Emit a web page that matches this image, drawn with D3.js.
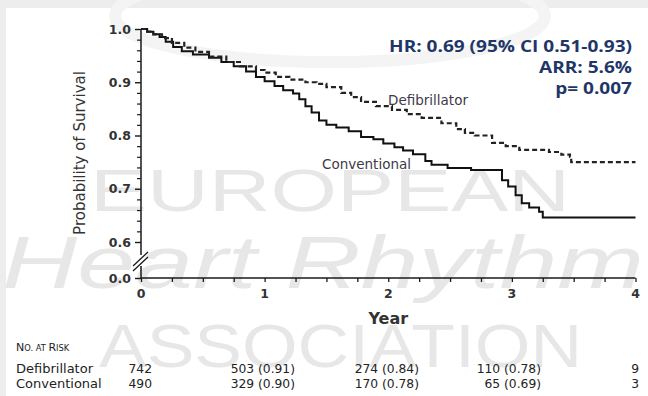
<!DOCTYPE html>
<html>
<head>
<meta charset="utf-8">
<script src="https://cdn.jsdelivr.net/npm/d3@7"></script>
<style>
  html, body { margin: 0; padding: 0; background: #fff; }
  svg { display: block; }
</style>
</head>
<body>
<svg id="chart" width="648" height="396"></svg>
<script>
// ---------- data ----------
const defibTime = [0, 0.05, 0.1, 0.17, 0.25, 0.35, 0.44, 0.55, 0.69, 0.8, 0.93, 1.0, 1.09, 1.2, 1.33, 1.42, 1.5, 1.62, 1.7, 1.78, 1.9, 2.03, 2.15, 2.27, 2.43, 2.55, 2.62, 2.7, 2.84, 2.95, 3.06, 3.3, 3.4, 3.47, 3.48, 4.0];
const defibSurv = [1.0, 0.995, 0.99, 0.983, 0.974, 0.965, 0.957, 0.948, 0.938, 0.93, 0.923, 0.918, 0.91, 0.905, 0.9, 0.897, 0.891, 0.88, 0.872, 0.863, 0.855, 0.848, 0.84, 0.833, 0.823, 0.812, 0.805, 0.8, 0.786, 0.78, 0.773, 0.769, 0.764, 0.76, 0.75, 0.75];

const convTime = [0, 0.05, 0.1, 0.15, 0.2, 0.26, 0.33, 0.42, 0.55, 0.65, 0.75, 0.85, 0.93, 1.0, 1.08, 1.15, 1.23, 1.28, 1.33, 1.38, 1.44, 1.5, 1.58, 1.68, 1.78, 1.88, 1.96, 2.05, 2.12, 2.2, 2.3, 2.35, 2.48, 2.67, 2.92, 2.97, 3.03, 3.08, 3.14, 3.22, 3.25, 4.0];
const convSurv = [1.0, 0.995, 0.99, 0.985, 0.976, 0.966, 0.958, 0.952, 0.946, 0.938, 0.93, 0.92, 0.91, 0.902, 0.893, 0.885, 0.879, 0.868, 0.855, 0.843, 0.828, 0.82, 0.815, 0.808, 0.797, 0.793, 0.785, 0.778, 0.772, 0.765, 0.752, 0.745, 0.739, 0.735, 0.716, 0.704, 0.688, 0.673, 0.665, 0.657, 0.646, 0.646];

const xTickLabels = ["0", "1", "2", "3", "4"];
const yTickValues = [0.0, 0.6, 0.7, 0.8, 0.9, 1.0];

const riskGroups = ["Defibrillator", "Conventional"];
const riskDefib = ["742", "503 (0.91)", "274 (0.84)", "110 (0.78)", "9"];
const riskConv  = ["490", "329 (0.90)", "170 (0.78)", "65 (0.69)", "3"];

const statLines = ["HR: 0.69 (95% CI 0.51-0.93)", "ARR: 5.6%", "p= 0.007"];

// ---------- setup ----------
const svg = d3.select("#chart");
const FONT = "'DejaVu Sans', sans-serif";

// background frame
svg.append("rect").attr("width", 648).attr("height", 396).attr("fill", "#ededed");
svg.append("rect").attr("x", 6).attr("y", 8).attr("width", 642).attr("height", 388).attr("fill", "#ffffff");

// watermark
const wm = svg.append("g").attr("fill", "#e7e7e7").attr("font-family", "'Liberation Sans', Arial, sans-serif");
wm.append("ellipse").attr("cx", 330).attr("cy", 16).attr("rx", 215).attr("ry", 46)
  .attr("fill", "none").attr("stroke", "#f4f4f4").attr("stroke-width", 12);
wm.append("text").attr("x", 90).attr("y", 211).attr("font-size", 60)
  .attr("textLength", 480).attr("lengthAdjust", "spacingAndGlyphs").text("EUROPEAN");
wm.append("text").attr("x", 2).attr("y", 288).attr("font-size", 74).attr("font-style", "italic")
  .attr("textLength", 642).attr("lengthAdjust", "spacingAndGlyphs").text("Heart Rhythm");
wm.append("text").attr("x", 99).attr("y", 367).attr("font-size", 61)
  .attr("textLength", 483).attr("lengthAdjust", "spacingAndGlyphs").text("ASSOCIATION");

// scales
const x = d3.scaleLinear().domain([0, 4]).range([141, 635.5]);
const y = d3.scaleLinear().domain([0, 0.6, 1.0]).range([278, 242, 29]);

const ink = "#1a1a1a";

// y axis (major)
const yAxisG = svg.append("g").attr("transform", `translate(${x(0)},0)`)
  .call(d3.axisLeft(y).tickValues(yTickValues).tickSize(6).tickPadding(4).tickFormat(d3.format(".1f")));
yAxisG.select(".domain").remove();
yAxisG.selectAll(".tick line").attr("stroke", ink).attr("stroke-width", 1.4);
yAxisG.selectAll(".tick text").attr("font-family", FONT).attr("font-weight", "bold")
  .attr("font-size", 12.5).attr("fill", "#333");

// y axis minor ticks
const minorVals = d3.range(0.62, 0.995, 0.02).filter(v => Math.abs(v * 10 - Math.round(v * 10)) > 0.01);
const yMinorG = svg.append("g").attr("transform", `translate(${x(0)},0)`)
  .call(d3.axisLeft(y).tickValues(minorVals).tickSize(4).tickFormat(""));
yMinorG.select(".domain").remove();
yMinorG.selectAll(".tick line").attr("stroke", ink).attr("stroke-width", 1.2);

// y axis line with break
svg.append("line").attr("x1", x(0)).attr("x2", x(0)).attr("y1", y(1.0)).attr("y2", 255)
  .attr("stroke", ink).attr("stroke-width", 1.5);
svg.append("line").attr("x1", x(0)).attr("x2", x(0)).attr("y1", 266).attr("y2", y(0))
  .attr("stroke", ink).attr("stroke-width", 1.5);
svg.append("line").attr("x1", 133).attr("y1", 266).attr("x2", 148).attr("y2", 252)
  .attr("stroke", ink).attr("stroke-width", 1.3);
svg.append("line").attr("x1", 133).attr("y1", 271).attr("x2", 148).attr("y2", 257)
  .attr("stroke", ink).attr("stroke-width", 1.3);

// x axis
const xAxisG = svg.append("g").attr("transform", `translate(0,${y(0)})`)
  .call(d3.axisBottom(x).tickValues(d3.range(0, 4.01, 0.25)).tickSize(4).tickFormat(""));
xAxisG.select(".domain").attr("d", `M${x(0)},0H${x(4)}`).attr("stroke", ink).attr("stroke-width", 1.5);
xAxisG.selectAll(".tick line").attr("stroke", ink).attr("stroke-width", 1.3);

svg.append("g").selectAll("text").data(xTickLabels).join("text")
  .attr("x", (d, i) => x(i)).attr("y", 298)
  .attr("text-anchor", "middle").attr("font-family", FONT).attr("font-weight", "bold")
  .attr("font-size", 12.5).attr("fill", "#333").text(d => d);

// axis titles
svg.append("text").attr("x", x(2)).attr("y", 324).attr("text-anchor", "middle")
  .attr("font-family", FONT).attr("font-weight", "bold").attr("font-size", 16).attr("fill", "#333")
  .text("Year");
svg.append("text").attr("transform", "translate(85,153) rotate(-90)").attr("text-anchor", "middle")
  .attr("font-family", FONT).attr("font-size", 15).attr("fill", "#333")
  .text("Probability of Survival");

// curves
const line = d3.line().x(d => x(d[0])).y(d => y(d[1])).curve(d3.curveStepAfter);
const defibData = defibTime.map((t, i) => [t, defibSurv[i]]);
const convData = convTime.map((t, i) => [t, convSurv[i]]);

svg.append("path").datum(convData).attr("d", line).attr("fill", "none")
  .attr("stroke", "#111").attr("stroke-width", 2);
svg.append("path").datum(defibData).attr("d", line).attr("fill", "none")
  .attr("stroke", "#222").attr("stroke-width", 2.2).attr("stroke-dasharray", "5,3");

// curve labels
svg.append("text").attr("x", 388).attr("y", 105).attr("font-family", FONT).attr("font-size", 13.5)
  .attr("fill", "#3e3a4a").text("Defibrillator");
svg.append("text").attr("x", 322).attr("y", 169).attr("font-family", FONT).attr("font-size", 13.5)
  .attr("fill", "#3e3a4a").text("Conventional");

// stats (slightly stretched horizontally like the reference)
svg.append("g").attr("transform", "translate(632,0) scale(1.19,1)")
  .selectAll("text").data(statLines).join("text")
  .attr("x", 0).attr("y", (d, i) => 52.5 + i * 21)
  .attr("text-anchor", "end").attr("font-family", "'Open Sans', sans-serif").attr("font-weight", "bold")
  .attr("font-size", 16).attr("fill", "#1f3768").text(d => d);

// risk table
const nar = svg.append("text").attr("x", 16).attr("y", 351).attr("font-family", FONT).attr("fill", "#222");
nar.append("tspan").attr("font-size", 11).text("N");
nar.append("tspan").attr("font-size", 8.3).text("O. AT ");
nar.append("tspan").attr("font-size", 11).text("R");
nar.append("tspan").attr("font-size", 8.3).text("ISK");

const colRight = [152, 295, 419, 541, 639];
const rowY = [372.5, 388];
const rows = [riskDefib, riskConv];
riskGroups.forEach((g, r) => {
  svg.append("text").attr("x", 16).attr("y", rowY[r]).attr("font-family", FONT)
    .attr("font-size", 13).attr("fill", "#222").text(g);
  svg.append("g").selectAll("text").data(rows[r]).join("text")
    .attr("x", (d, i) => colRight[i]).attr("y", rowY[r]).attr("text-anchor", "end")
    .attr("font-family", FONT).attr("font-size", 12.3).attr("fill", "#222").text(d => d);
});
</script>
</body>
</html>
